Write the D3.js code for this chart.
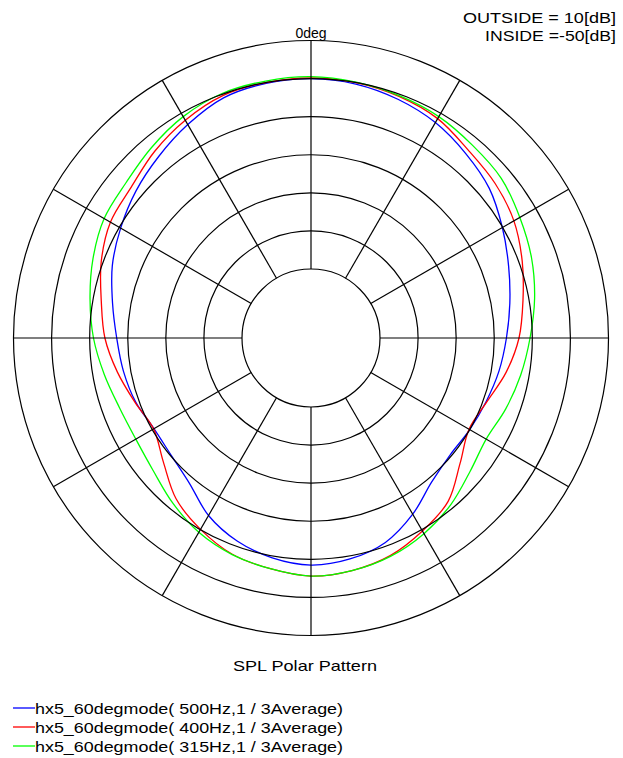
<!DOCTYPE html>
<html>
<head>
<meta charset="utf-8">
<script src="https://cdn.jsdelivr.net/npm/d3@7"></script>
<style>
  body { margin: 0; background: #fff; }
  text { font-family: "Liberation Sans", Arial, sans-serif; fill: #000; }
</style>
</head>
<body>
<svg id="mainsvg" width="623" height="758"></svg>
<script>
// angles in degrees, clockwise from the top (0deg)
const angles = [0, 10, 20, 30, 40, 50, 60, 70, 80, 90, 100, 110, 120, 130, 140, 150, 160, 170,
                180, 190, 200, 210, 220, 230, 240, 250, 260, 270, 280, 290, 300, 310, 320, 330, 340, 350];

// SPL in dB
const spl500 = [0.0, -0.4, -1.4, -2.8, -4.9, -7.0, -10.1, -12.9, -15.1, -16.8, -18.0, -19.2, -20.0, -20.4, -18.8, -14.7, -11.0, -9.2,
                -8.5, -9.5, -11.4, -14.3, -18.4, -20.2, -20.5, -19.1, -18.1, -17.1, -15.2, -12.6, -10.4, -8.1, -5.9, -3.4, -1.0, -0.2];
const spl400 = [0.2, 0.0, -0.6, -1.6, -3.8, -5.0, -6.6, -9.1, -11.6, -13.5, -16.1, -19.0, -20.2, -17.0, -12.1, -9.6, -7.3, -6.1,
                -5.6, -6.6, -7.7, -10.1, -13.0, -17.5, -20.4, -18.9, -16.5, -14.0, -12.2, -9.5, -7.3, -6.5, -4.2, -2.1, -0.4, 0.0];
const spl315 = [0.5, 0.1, -0.4, -1.0, -2.1, -2.9, -4.8, -6.5, -8.5, -10.6, -12.2, -13.7, -15.0, -13.6, -11.0, -8.8, -7.1, -6.1,
                -5.6, -6.6, -7.6, -9.2, -11.6, -14.0, -15.0, -14.6, -13.0, -11.0, -9.2, -7.2, -5.4, -4.7, -2.9, -1.0, 0.2, 0.4];

const seriesNames = ['hx5_60degmode( 500Hz,1 / 3Average)', 'hx5_60degmode( 400Hz,1 / 3Average)', 'hx5_60degmode( 315Hz,1 / 3Average)'];
const seriesColors = ['#0000ff', '#ff0000', '#00ff00'];
const ringTicks = [-50, -40, -30, -20, -10, 0, 10];
const spokeAngles = [0, 30, 60, 90, 120, 150, 180, 210, 240, 270, 300, 330];

const svg = d3.select('#mainsvg');
const cx = 311, cy = 338;
const rScale = d3.scaleLinear().domain([-50, 10]).range([69, 297.5]);
const toRad = d => d * Math.PI / 180;

const g = svg.append('g').attr('transform', `translate(${cx}, ${cy})`);

// curves first, the grid is drawn over them like in the original
const line = d3.lineRadial()
    .angle(d => toRad(d.a))
    .radius(d => rScale(d.v))
    .curve(d3.curveCatmullRomClosed.alpha(0.5));

[spl500, spl400, spl315].forEach((vals, i) => {
    const pts = angles.map((a, j) => ({a: a, v: vals[j]}));
    g.append('path')
        .attr('d', line(pts))
        .attr('fill', 'none')
        .attr('stroke', seriesColors[i])
        .attr('stroke-width', 1.3);
});

// rings
g.selectAll('.ring').data(ringTicks).join('circle')
    .attr('class', 'ring')
    .attr('r', d => rScale(d))
    .attr('fill', 'none')
    .attr('stroke', '#000')
    .attr('stroke-width', 1.2);

// spokes
g.selectAll('.spoke').data(spokeAngles).join('line')
    .attr('class', 'spoke')
    .attr('x1', d => rScale(-50) * Math.sin(toRad(d)))
    .attr('y1', d => -rScale(-50) * Math.cos(toRad(d)))
    .attr('x2', d => rScale(10) * Math.sin(toRad(d)))
    .attr('y2', d => -rScale(10) * Math.cos(toRad(d)))
    .attr('stroke', '#000')
    .attr('stroke-width', 1.2);

// labels
g.append('text')
    .attr('x', 0)
    .attr('y', -rScale(10) - 3)
    .attr('text-anchor', 'middle')
    .attr('font-size', '14px')
    .text('0deg');

svg.append('text')
    .attr('x', 616).attr('y', 23)
    .attr('text-anchor', 'end')
    .attr('font-size', '15px')
    .attr('textLength', 153).attr('lengthAdjust', 'spacingAndGlyphs')
    .text('OUTSIDE = 10[dB]');

svg.append('text')
    .attr('x', 616).attr('y', 41)
    .attr('text-anchor', 'end')
    .attr('font-size', '15px')
    .attr('textLength', 131).attr('lengthAdjust', 'spacingAndGlyphs')
    .text('INSIDE =-50[dB]');

svg.append('text')
    .attr('x', 305).attr('y', 671)
    .attr('text-anchor', 'middle')
    .attr('font-size', '15px')
    .attr('textLength', 144).attr('lengthAdjust', 'spacingAndGlyphs')
    .text('SPL Polar Pattern');

// legend
const legend = svg.selectAll('.legend').data(seriesNames).join('g')
    .attr('class', 'legend')
    .attr('transform', (d, i) => `translate(13, ${708 + i * 19})`);

legend.append('line')
    .attr('x1', 0).attr('x2', 22)
    .attr('y1', 0).attr('y2', 0)
    .attr('stroke', (d, i) => seriesColors[i])
    .attr('stroke-width', 1.3);

legend.append('text')
    .attr('x', 22).attr('y', 6)
    .attr('font-size', '15px')
    .attr('textLength', 308).attr('lengthAdjust', 'spacingAndGlyphs')
    .text(d => d);
</script>
</body>
</html>
